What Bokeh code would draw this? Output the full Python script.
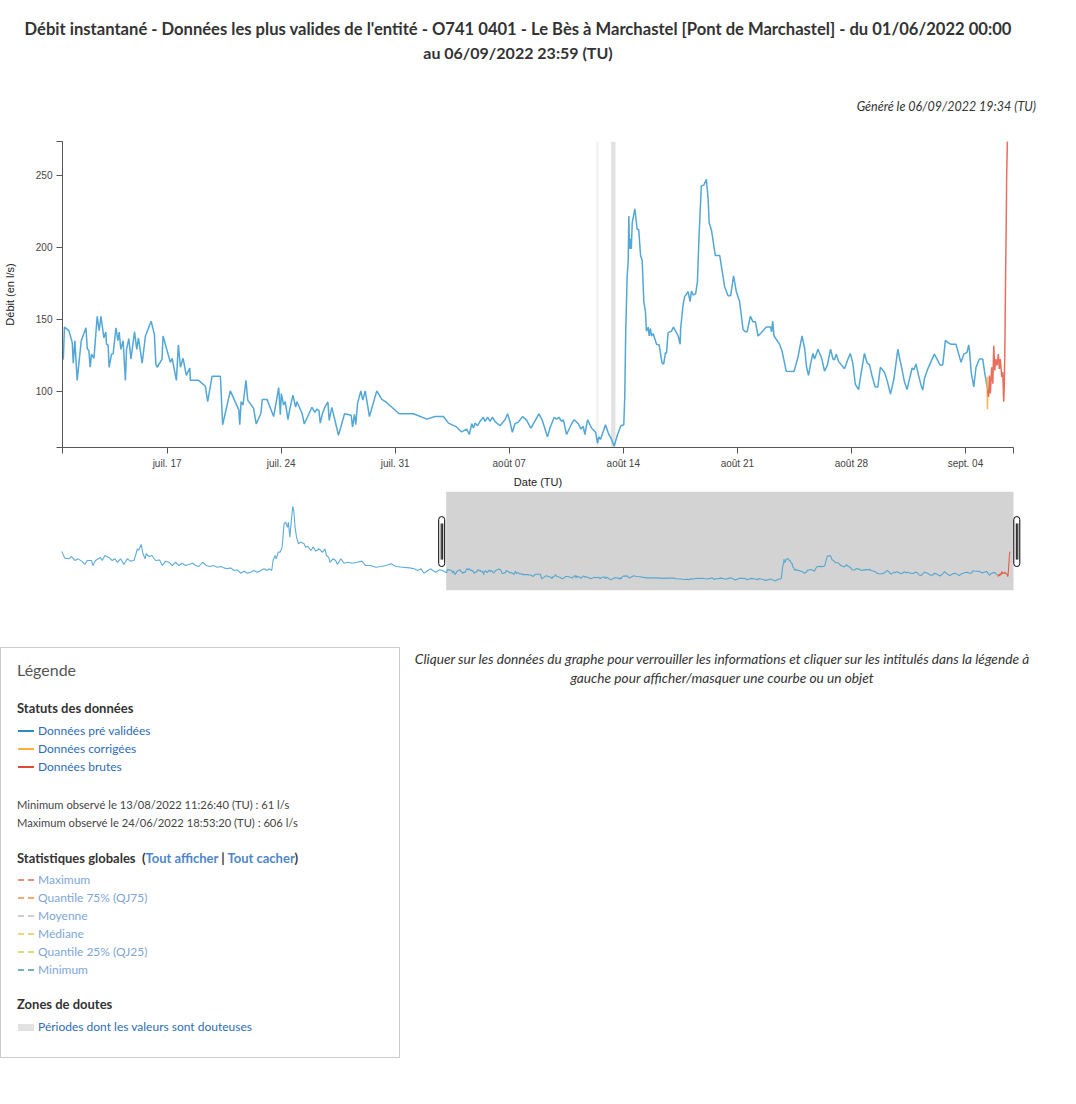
from bokeh.plotting import figure
from bokeh.models import Range1d, FixedTicker, Div, Spacer
from bokeh.layouts import column, row
from bokeh.embed import file_html
from bokeh.resources import INLINE

TITLE_1 = "Débit instantané - Données les plus valides de l'entité - O741 0401 - Le Bès à Marchastel [Pont de Marchastel] - du 01/06/2022 00:00"
TITLE_2 = "au 06/09/2022 23:59 (TU)"
GENERATED = "Généré le 06/09/2022 19:34 (TU)"
NOTE_1 = "Cliquer sur les données du graphe pour verrouiller les informations et cliquer sur les intitulés dans la légende à"
NOTE_2 = "gauche pour afficher/masquer une courbe ou un objet"
X_LABEL = "Date (TU)"
Y_LABEL = "Débit (en l/s)"

# time = days since 01/06/2022 00:00 (TU); flow in l/s
pv_days = [0, 0.34, 0.75, 1.03, 1.37, 1.72, 2.06, 2.4, 2.64, 3.09,
           3.23, 3.5, 3.78, 4.02, 4.19, 4.46, 4.87, 5.22, 5.5, 5.74,
           6.08, 6.42, 6.76, 7.11, 7.45, 7.62, 7.8, 7.95, 8.2, 8.38,
           8.6, 8.7, 9.0, 9.3, 9.68, 10.1, 10.37, 10.7, 11.05, 11.4,
           11.74, 12.08, 12.4, 12.77, 13.1, 13.5, 13.8, 14.14, 14.5, 14.9,
           15.25, 15.6, 16.04, 16.4, 16.7, 17.07, 17.4, 17.75, 18.08, 18.44,
           18.8, 19.13, 19.47, 19.8, 20.15, 20.5, 20.84, 21.18, 21.35, 21.63,
           21.77, 21.97, 22.1, 22.3, 22.5, 22.7, 22.9, 23.07, 23.25, 23.35,
           23.49, 23.79, 23.9, 24.03, 24.18, 24.38, 24.6, 24.96, 25.1, 25.35,
           25.65, 25.9, 26.17, 26.5, 26.86, 27.1, 27.27, 27.5, 27.6, 27.95,
           28.2, 28.4, 28.74, 29.08, 29.5, 29.9, 30.46, 30.9, 31.3, 31.8,
           32.35, 32.85, 33.4, 33.9, 34.4, 35.1, 35.8, 36.3, 36.65, 37.0,
           37.3, 37.7, 38.0, 38.2, 38.5, 38.9, 39.2,
           39.63, 39.70, 39.97, 40.18, 40.24, 40.34, 40.48, 40.73, 41.02, 41.10,
           41.20, 41.28, 41.36, 41.51, 41.71, 41.83, 41.94, 42.12, 42.24, 42.28,
           42.38, 42.44, 42.59, 42.69, 42.86, 42.98, 43.06, 43.16, 43.30, 43.44,
           43.51, 43.65, 43.78, 44.00, 44.14, 44.24, 44.47, 44.67, 45.02, 45.22,
           45.31, 45.39, 45.69, 45.75, 46.20, 46.31, 46.57, 46.69, 46.82, 46.98,
           47.18, 47.39, 47.43, 47.94, 48.35, 48.49, 48.76, 49.27, 49.41, 49.88,
           50.40, 50.46, 50.54, 50.66, 50.84, 50.95, 51.31, 51.47, 51.76, 51.84,
           52.13, 52.54, 52.85, 52.95, 53.01, 53.15, 53.25, 53.42, 53.50, 53.72,
           53.89, 53.97, 54.28, 54.42, 54.89, 55.07, 55.19, 55.32, 55.40, 55.54,
           55.70, 55.87, 55.95, 56.11, 56.52, 56.89, 57.30, 57.38, 57.50, 57.58,
           57.69, 57.89, 58.01, 58.16, 58.42, 58.87, 59.18, 59.49, 60.24, 61.12,
           61.94, 62.45, 62.96, 63.27, 63.71, 64.08, 64.39, 64.55, 64.70, 64.80,
           64.90, 65.06, 65.20, 65.41, 65.51, 65.68, 65.82, 65.96, 66.12, 66.43,
           66.74, 66.90, 67.04, 67.19, 67.35, 67.56, 67.82, 68.07, 68.33, 68.54,
           68.82, 69.03, 69.35, 69.50, 69.76, 69.91, 70.05, 70.21, 70.32, 70.52,
           70.83, 70.99, 71.24, 71.40, 71.54, 71.64, 71.81, 72.05, 72.30, 72.42,
           72.50, 72.60, 72.91, 73.11, 73.22, 73.44, 73.65, 73.85, 74.03, 74.09,
           74.15, 74.24, 74.30, 74.34, 74.38, 74.44, 74.49, 74.55, 74.71, 74.85,
           74.95, 75.06, 75.16, 75.26, 75.36, 75.42, 75.53, 75.59, 75.67, 75.73,
           75.83, 76.04, 76.20, 76.38, 76.48, 76.59, 76.65, 76.75, 76.96, 77.08,
           77.37, 77.49, 77.52, 77.67, 77.77, 77.98, 78.10, 78.18, 78.29, 78.44,
           78.55, 78.65, 78.79, 78.94, 79.10, 79.21, 79.27, 79.41, 79.65, 79.92,
           80.22, 80.43, 80.59, 80.77, 80.94, 81.14, 81.35, 81.49, 81.60, 81.80,
           81.96, 82.11, 82.27, 82.47, 82.78, 83.04, 83.10, 83.17, 83.25, 83.59,
           83.74, 84.00, 84.48, 84.72, 84.97, 85.13, 85.25, 85.37, 85.49, 85.64,
           85.74, 85.95, 86.19, 86.35, 86.52, 86.72, 86.87, 86.96, 87.07, 87.21,
           87.58, 87.79, 87.93, 88.09, 88.24, 88.44, 88.60, 88.80, 88.97, 89.11,
           89.26, 89.46, 89.62, 89.78, 90.03, 90.19, 90.40, 90.61, 90.85, 90.95,
           91.10, 91.26, 91.42, 91.59, 91.73, 91.83, 91.97, 92.11, 92.28, 92.38,
           92.48, 92.69, 93.09, 93.26, 93.40, 93.50, 93.61, 93.77, 93.92, 94.12,
           94.42, 94.73, 94.90, 95.10, 95.20, 95.26, 95.35, 95.51, 95.65, 95.86,
           96.06, 96.20, 96.37]
pv_flow = [279, 228, 223, 240, 211, 223, 206, 182, 211, 211,
           174, 211, 223, 233, 211, 247, 233, 211, 223, 198,
           223, 182, 223, 206, 211, 247, 296, 285, 328, 260,
           223, 260, 240, 247, 211, 215, 174, 206, 198, 174,
           198, 174, 191, 174, 182, 191, 174, 167, 198, 174,
           167, 174, 162, 167, 157, 150, 157, 138, 143, 118,
           133, 118, 125, 138, 125, 138, 150, 138, 150, 138,
           211, 247, 223, 272, 272, 308, 479, 490, 452, 490,
           381, 606, 576, 454, 381, 333, 345, 333, 308, 315,
           284, 308, 279, 296, 271, 296, 247, 233, 198, 223,
           211, 182, 223, 191, 198, 191, 198, 206, 174, 174,
           162, 167, 174, 187, 167, 162, 157, 150, 138, 150,
           118, 138, 150, 138, 125, 143, 138,
           122, 144.5, 142, 133.7, 119.4, 134.9, 107.5, 135, 144, 129.6,
           128, 116.6, 125.7, 122.8, 152, 142, 152, 137, 141, 132.6,
           132, 116.6, 125.7, 126, 144, 135, 141, 129, 135, 107.5,
           129, 136.5, 122.3, 141.2, 129, 137, 119.4, 138.3, 148.5, 139.4,
           118.9, 116.6, 122.3, 138.3, 120, 122.8, 107.5, 132.1, 116.6, 122.8,
           111, 116.1, 107.5, 107.5, 103.4, 92.7, 110.3, 110.3, 76.7, 100.2,
           87, 76.7, 92.7, 90.4, 107.5, 93.8, 88.1, 77.2, 84.7, 94.3,
           94.3, 82.4, 102.5, 83.6, 98.3, 90.4, 92.7, 80.2, 85.8, 97.3,
           89, 92.7, 84.7, 77.2, 88.8, 85.2, 87.5, 86.5, 77.8, 84.7,
           89.3, 92.5, 79.7, 88.8, 69.4, 84.3, 83.3, 75.1, 84, 76.7,
           91.5, 100.2, 93.8, 100.2, 82.4, 100.2, 94.3, 92, 84.3, 84.3,
           80.6, 82.4, 82.4, 77.8, 75.6, 71.7, 73.7, 69.9, 77.4, 74.5,
           77.8, 76, 79, 81.9, 79, 81.9, 79, 81.9, 79, 76,
           80.2, 84.3, 79, 71.5, 77.4, 78.5, 82.4, 79.7, 74.4, 78.5,
           84.3, 79.7, 68.3, 74.4, 81.9, 80.6, 81.9, 79, 80.2, 69.9,
           77.4, 80.2, 77.4, 73.7, 75.6, 69.9, 80.2, 74.4, 71.5, 63.7,
           68.3, 66.5, 76.7, 69.9, 68, 61.9, 69.9, 76, 76.7, 96.1,
           141.7, 180.4, 189.6, 221.5, 198.7, 206, 198.7, 217, 226.5, 212.4,
           212, 194.1, 190.7, 162.2, 155.4, 141.7, 144.4, 138.3, 143.5, 138.3,
           140, 132.6, 132.1, 119.4, 118.9, 126.9, 126.2, 140.6, 141.7, 144.5,
           138.3, 132.6, 143.4, 160, 165.6, 169, 162.2, 169.5, 166.8, 167.5,
           175.9, 207.8, 242.5, 243, 247, 232.9, 217, 211.9, 194.1, 194.1,
           172.5, 166.3, 166.3, 180, 169, 162.2, 142.8, 141.2, 141.2, 152,
           148.1, 148.1, 138.3, 140.6, 144.5, 144.5, 141.2, 148.6, 138.3, 132.6,
           128.1, 113.9, 113.7, 123.5, 138.3, 129.8, 116.6, 110.9, 118.6, 126.2,
           122.3, 129.1, 122.3, 113.9, 117.8, 129.1, 122.3, 121.8, 125.7, 120.7,
           115.5, 122.3, 126.2, 119.4, 104.8, 101.1, 112.5, 126.2, 119.4, 118.4,
           110.9, 102.9, 102.9, 116.6, 113.2, 107.5, 98, 108.6, 129.1, 123.5,
           115.5, 106.3, 101.1, 109.7, 116.1, 114.8, 118.9, 111.5, 104, 100.7,
           108.6, 115.5, 125.7, 122.3, 118.9, 117.8, 118.4, 135.3, 133.7, 132.6,
           132.6, 120, 125.7, 126.9, 132.1, 126.9, 113.2, 102.9, 116.6, 122.3,
           122.3, 111.5, 100.7]
corr_days = [96.33, 96.35, 96.37]
corr_flow = [110, 87.4, 100.7]
brut_days = [96.37, 96.42, 96.47, 96.53, 96.61, 96.68, 96.74, 96.80, 96.86, 96.94,
             97.02, 97.08, 97.14, 97.23, 97.29, 97.35, 97.39, 97.43, 97.47, 97.50,
             97.53, 97.58]
brut_flow = [100.7, 96, 110.9, 98.4, 116.6, 105.2, 131.5, 114.4, 122.3, 117.8,
             125.7, 115.5, 122.3, 109.8, 113.2, 92.7, 105.2, 140, 186, 212,
             249, 276]
doubt_start = [72.33, 73.25]
doubt_end = [72.51, 73.52]

view_start, view_end = 39.58, 97.95
y_min, y_max = 60.9, 273.3
tick_days = [46, 53, 60, 67, 74, 81, 88, 95]
tick_labels = ["juil. 17", "juil. 24", "juil. 31", "août 07", "août 14", "août 21", "août 28", "sept. 04"]
y_ticks = [100, 150, 200, 250]

status_labels = ["Données pré validées", "Données corrigées", "Données brutes"]
status_colors = ["#2b8cc4", "#fdae38", "#e34a33"]
stat_labels = ["Maximum", "Quantile 75% (QJ75)", "Moyenne", "Médiane", "Quantile 25% (QJ25)", "Minimum"]
stat_colors = ["#e8907c", "#f6ab6c", "#cfcfcf", "#f2d27c", "#cfe07c", "#78afbe"]
MIN_TEXT = "Minimum observé le 13/08/2022 11:26:40 (TU) : 61 l/s"
MAX_TEXT = "Maximum observé le 24/06/2022 18:53:20 (TU) : 606 l/s"
DOUBT_LABEL = "Périodes dont les valeurs sont douteuses"

assert len(pv_days) == len(pv_flow)
assert len(brut_days) == len(brut_flow)

BLUE = "#3f9dd1"
RED = "#e34a33"
ORANGE = "#fdae38"
AXIS_FONT = "Liberation Sans"
UI_FONT = "Lato"


def both_keys(d):
    out = {}
    for k, v in d.items():
        out[k] = v
        out[str(k)] = v
    return out


# ---------------- main chart ----------------
p = figure(width=1076, height=370, x_range=Range1d(view_start, view_end),
           y_range=Range1d(y_min, y_max), output_backend="svg", toolbar_location=None,
           min_border_left=61, min_border_right=63, min_border_top=21, min_border_bottom=39)
p.outline_line_color = None
p.xgrid.visible = False
p.ygrid.visible = False
p.background_fill_color = "white"
p.border_fill_color = "white"

p.quad(left=doubt_start, right=doubt_end, bottom=y_min, top=y_max,
       fill_color=["#f3f3f3", "#e2e2e2"], line_color=None)
p.line(pv_days, pv_flow, line_color=BLUE, line_width=1.5, line_alpha=0.9)
p.line(corr_days, corr_flow, line_color=ORANGE, line_width=1.5, line_alpha=0.9)
p.line(brut_days, brut_flow, line_color=RED, line_width=1.5, line_alpha=0.8)

xticks = [view_start] + tick_days + [view_end]
xo = {view_start: "", view_end: ""}
xo.update({d: l for d, l in zip(tick_days, tick_labels)})
p.xaxis.ticker = FixedTicker(ticks=xticks)
p.xaxis.major_label_overrides = both_keys(xo)
yticks = [y_min] + y_ticks + [y_max]
yo = {y_min: "", y_max: ""}
yo.update({v: str(v) for v in y_ticks})
p.yaxis.ticker = FixedTicker(ticks=yticks)
p.yaxis.major_label_overrides = both_keys(yo)

for ax in (p.xaxis[0], p.yaxis[0]):
    ax.axis_line_color = "#555555"
    ax.major_tick_line_color = "#555555"
    ax.major_tick_out = 6
    ax.major_tick_in = 0
    ax.minor_tick_line_color = None
    ax.major_label_text_font = AXIS_FONT
    ax.major_label_text_font_size = "10px"
    ax.major_label_text_color = "#444444"
    ax.axis_label_text_font = AXIS_FONT
    ax.axis_label_text_font_size = "11px"
    ax.axis_label_text_font_style = "normal"
    ax.axis_label_text_color = "#222222"
    ax.major_label_standoff = 4
p.xaxis.axis_label = X_LABEL
p.yaxis.axis_label = Y_LABEL
p.xaxis.axis_label_standoff = 4
p.yaxis.axis_label_standoff = 17

# ---------------- navigator / overview ----------------
ov_px_per_day = 952 / view_end
ov_end = 960 / ov_px_per_day
ov_ymin, ov_ymax = -8, 714
ov = figure(width=1076, height=110, x_range=Range1d(0, ov_end), y_range=Range1d(ov_ymin, ov_ymax),
            output_backend="svg", toolbar_location=None,
            min_border_left=61, min_border_right=55, min_border_top=1, min_border_bottom=10)
ov.outline_line_color = None
ov.xaxis.visible = False
ov.yaxis.visible = False
ov.xgrid.visible = False
ov.ygrid.visible = False
ov.quad(left=[view_start], right=[view_end], bottom=[ov_ymin], top=[ov_ymax],
        fill_color="#d3d3d3", line_color=None)
ov.line(pv_days, pv_flow, line_color=BLUE, line_width=1.1, line_alpha=0.85)
ov.line(corr_days, corr_flow, line_color=ORANGE, line_width=1.1)
ov.line(brut_days, brut_flow, line_color=RED, line_width=1.1, line_alpha=0.85)

span = ov_ymax - ov_ymin
h_bot = ov_ymin + 0.242 * span
h_top = ov_ymin + 0.747 * span
k = ov_px_per_day
hl = [view_start - 7.5 / k, view_end + 0.3 / k]
hr = [view_start - 1.5 / k, view_end + 6.3 / k]
try:
    ov.quad(left=hl, right=hr, bottom=h_bot, top=h_top, fill_color="white",
            line_color="black", line_width=1, border_radius=3)
except Exception:
    ov.quad(left=hl, right=hr, bottom=h_bot, top=h_top, fill_color="white",
            line_color="black", line_width=1)
inner_x = [hl[0] + 2.5 / k, hl[0] + 4.0 / k, hl[1] + 2.5 / k, hl[1] + 4.0 / k]
ov.segment(x0=inner_x, x1=inner_x, y0=h_bot + 0.07 * span, y1=h_top - 0.07 * span,
           line_color="black", line_width=1)

# ---------------- HTML blocks ----------------
title_html = (
    f'<div style="position:relative;width:1076px;height:120px;font-family:{UI_FONT},sans-serif;color:#333;">'
    f'<div style="position:absolute;left:0;top:17px;width:1036px;text-align:center;font-size:16.6px;'
    f'font-weight:bold;line-height:24px;white-space:nowrap;">{TITLE_1}</div>'
    f'<div style="position:absolute;left:0;top:41px;width:1036px;text-align:center;font-size:16px;'
    f'font-weight:bold;line-height:24px;white-space:nowrap;">{TITLE_2}</div>'
    f'<div style="position:absolute;right:40px;top:98px;font-size:12.5px;font-style:italic;'
    f'line-height:18px;white-space:nowrap;">{GENERATED}</div></div>'
)
title_div = Div(text=title_html, width=1076, height=120, margin=0)


def txt(top, left, text, size=12, color="#444", weight="normal", style="normal"):
    return (f'<div style="position:absolute;left:{left}px;top:{top - 9}px;line-height:18px;'
            f'font-size:{size}px;color:{color};font-weight:{weight};font-style:{style};'
            f'white-space:nowrap;">{text}</div>')


def swatch(top, color, dash):
    da = ' stroke-dasharray="6,4"' if dash else ''
    return (f'<svg width="16" height="4" style="position:absolute;left:17px;top:{top - 2}px;">'
            f'<line x1="0" y1="2" x2="16" y2="2" stroke="{color}" stroke-width="2"{da}/></svg>')


parts = ['<div style="position:relative;width:400px;height:411px;box-sizing:border-box;'
         f'border:1px solid #cccccc;font-family:{UI_FONT},sans-serif;">']
parts.append(txt(22, 16, "Légende", 16, "#555"))
parts.append(txt(60, 16, "Statuts des données", 13, "#333", "bold"))
for i, (lab, col) in enumerate(zip(status_labels, status_colors)):
    t = 83 + 18 * i
    parts.append(swatch(t, col, False))
    parts.append(txt(t, 37, lab, 12, "#2e6db4"))
parts.append(txt(157, 16, MIN_TEXT, 11.2, "#444"))
parts.append(txt(175, 16, MAX_TEXT, 11.2, "#444"))
parts.append(txt(210, 16, 'Statistiques globales&nbsp;&nbsp;(<span style="color:#4f87c6;">Tout afficher</span>'
                          ' | <span style="color:#4f87c6;">Tout cacher</span>)', 13, "#333", "bold"))
for i, (lab, col) in enumerate(zip(stat_labels, stat_colors)):
    t = 232 + 18 * i
    parts.append(swatch(t, col, True))
    parts.append(txt(t, 37, lab, 12, "#7ea6d6"))
parts.append(txt(356, 16, "Zones de doutes", 13, "#333", "bold"))
parts.append('<div style="position:absolute;left:17px;top:376px;width:16px;height:7px;background:#e2e2e2;"></div>')
parts.append(txt(379, 37, DOUBT_LABEL, 12, "#2e6db4"))
parts.append('</div>')
legend_div = Div(text="".join(parts), width=400, height=411, margin=0)

note_html = (f'<div style="position:relative;width:676px;height:411px;font-family:{UI_FONT},sans-serif;">'
             f'<div style="position:absolute;left:0;top:2px;width:644px;text-align:center;font-size:13.7px;'
             f'font-style:italic;line-height:19px;color:#333;white-space:nowrap;">{NOTE_1}<br>{NOTE_2}</div></div>')
note_div = Div(text=note_html, width=676, height=411, margin=0)

layout = column(title_div, p, row(ov, margin=0), Spacer(width=1076, height=47, margin=0),
                row(legend_div, note_div, spacing=0, margin=0), spacing=0, margin=0)

open("out.html", "w").write(file_html(layout, INLINE))
